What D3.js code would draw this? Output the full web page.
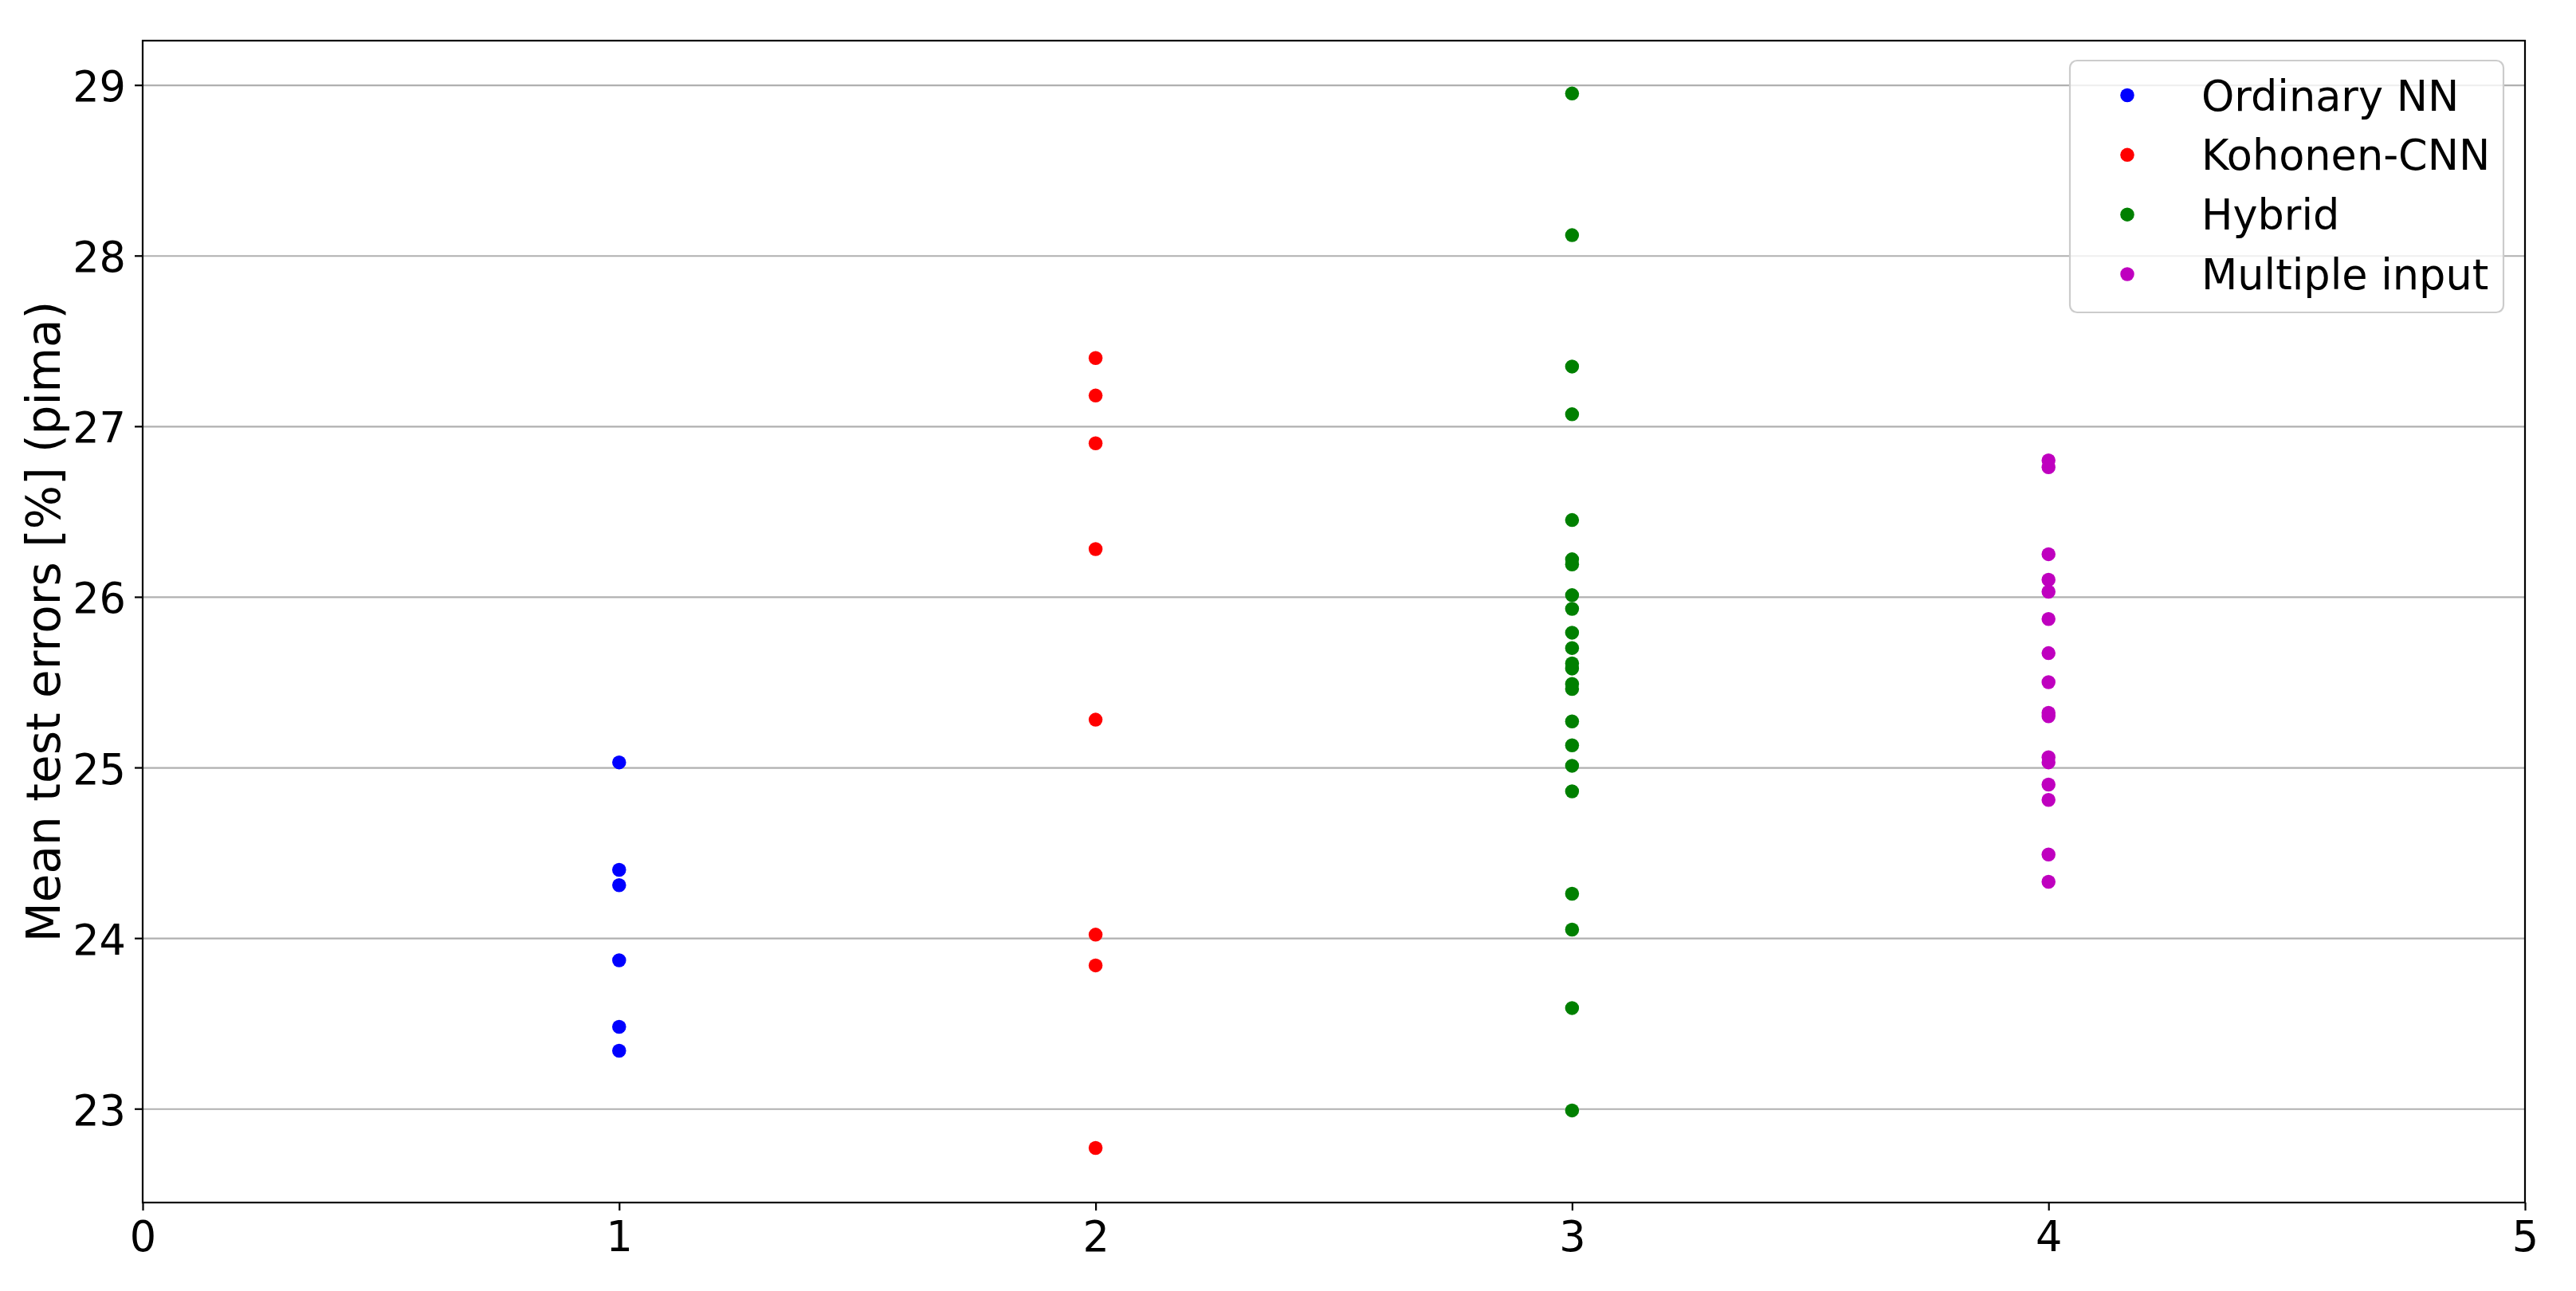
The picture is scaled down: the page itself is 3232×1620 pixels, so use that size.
<!DOCTYPE html>
<html>
<head>
<meta charset="utf-8">
<script src="https://cdn.jsdelivr.net/npm/d3@7"></script>
<style>
  body { margin: 0; background: #fff; }
  svg { display: block; }
  text { font-family: "DejaVu Sans", sans-serif; }
</style>
</head>
<body>
<svg id="chart" width="3232" height="1620"></svg>
<script>
// data
var seriesNames = ["Ordinary NN", "Kohonen-CNN", "Hybrid", "Multiple input"]
var seriesX = [1, 2, 3, 4]
var ordinaryNN = [25.03, 24.40, 24.31, 23.87, 23.48, 23.34]
var kohonenCNN = [27.40, 27.18, 26.90, 26.28, 25.28, 24.02, 23.84, 22.77]
var hybrid = [28.95, 28.12, 27.35, 27.07, 26.45, 26.22, 26.19, 26.01, 25.93, 25.79, 25.70,
              25.61, 25.58, 25.49, 25.46, 25.27, 25.13, 25.01, 24.86, 24.26, 24.05, 23.59, 22.99]
var multipleInput = [26.80, 26.76, 26.25, 26.10, 26.03, 25.87, 25.67, 25.50, 25.32, 25.30,
                     25.06, 25.03, 24.90, 24.81, 24.49, 24.33]
var xTicks = [0, 1, 2, 3, 4, 5]
var yTicks = [23, 24, 25, 26, 27, 28, 29]
var yLabel = "Mean test errors [%] (pima)"

var allSeries = [ordinaryNN, kohonenCNN, hybrid, multipleInput]
var colors = ["#0000ff", "#ff0000", "#008000", "#bf00bf"]

var mLeft = 179, mRight = 3168, mTop = 51, mBottom = 1509
var width = mRight - mLeft, height = mBottom - mTop
var fontSize = 52.5, labelSize = 58

var svg = d3.select("#chart")

var xScale = d3.scaleLinear().domain([0, 5]).range([0, width])
var yScale = d3.scaleLinear().domain([22.45, 29.26]).range([height, 0])

var g = svg.append("g").attr("transform", "translate(" + mLeft + "," + mTop + ")")

// horizontal grid
g.append("g")
  .call(d3.axisLeft(yScale).tickValues(yTicks).tickSize(-width).tickFormat(""))
  .call(function (s) { s.select(".domain").remove() })
  .selectAll("line")
  .style("stroke", "#b0b0b0")
  .style("stroke-width", 2.2)

// points
var dataset = []
for (let i = 0; i < allSeries.length; i++) {
  for (let j = 0; j < allSeries[i].length; j++) {
    dataset.push([seriesX[i], allSeries[i][j], i])
  }
}

g.append("g")
  .selectAll("circle")
  .data(dataset)
  .enter()
  .append("circle")
  .attr("cx", function (d) { return xScale(d[0]) })
  .attr("cy", function (d) { return yScale(d[1]) })
  .attr("r", 8.75)
  .style("fill", function (d) { return colors[d[2]] })

// axes
var xAxis = g.append("g")
  .attr("transform", "translate(0," + height + ")")
  .call(d3.axisBottom(xScale).tickValues(xTicks).tickSize(10).tickPadding(11).tickFormat(d3.format("d")))

var yAxis = g.append("g")
  .call(d3.axisLeft(yScale).tickValues(yTicks).tickSize(10).tickPadding(11).tickFormat(d3.format("d")))

xAxis.selectAll("text").style("font-size", fontSize + "px").attr("dy", "0.76em").attr("fill", "#000")
yAxis.selectAll("text").style("font-size", fontSize + "px").attr("dy", "0.38em").attr("fill", "#000")
xAxis.selectAll(".tick line").style("stroke", "#000").style("stroke-width", 2.2)
yAxis.selectAll(".tick line").style("stroke", "#000").style("stroke-width", 2.2)
xAxis.select(".domain").remove()
yAxis.select(".domain").remove()

// frame
g.append("rect")
  .attr("x", 0).attr("y", 0)
  .attr("width", width).attr("height", height)
  .style("fill", "none")
  .style("stroke", "#000")
  .style("stroke-width", 2.2)

// y label
svg.append("text")
  .attr("text-anchor", "middle")
  .attr("transform", "translate(75," + (mTop + height / 2) + ")rotate(-90)")
  .style("font-size", labelSize + "px")
  .text(yLabel)

// legend
var legend = svg.append("g").attr("transform", "translate(2597,76)")
legend.append("rect")
  .attr("width", 544).attr("height", 316)
  .attr("rx", 9).attr("ry", 9)
  .style("fill", "#fff").style("fill-opacity", 0.8)
  .style("stroke", "#cccccc").style("stroke-width", 2.2)

var rowY = d3.scaleLinear().domain([0, 3]).range([43.5, 268])
for (let i = 0; i < seriesNames.length; i++) {
  legend.append("circle")
    .attr("cx", 72).attr("cy", rowY(i))
    .attr("r", 8.75)
    .style("fill", colors[i])
  legend.append("text")
    .attr("x", 165).attr("y", rowY(i) + 19)
    .style("font-size", fontSize + "px")
    .text(seriesNames[i])
}
</script>
</body>
</html>
